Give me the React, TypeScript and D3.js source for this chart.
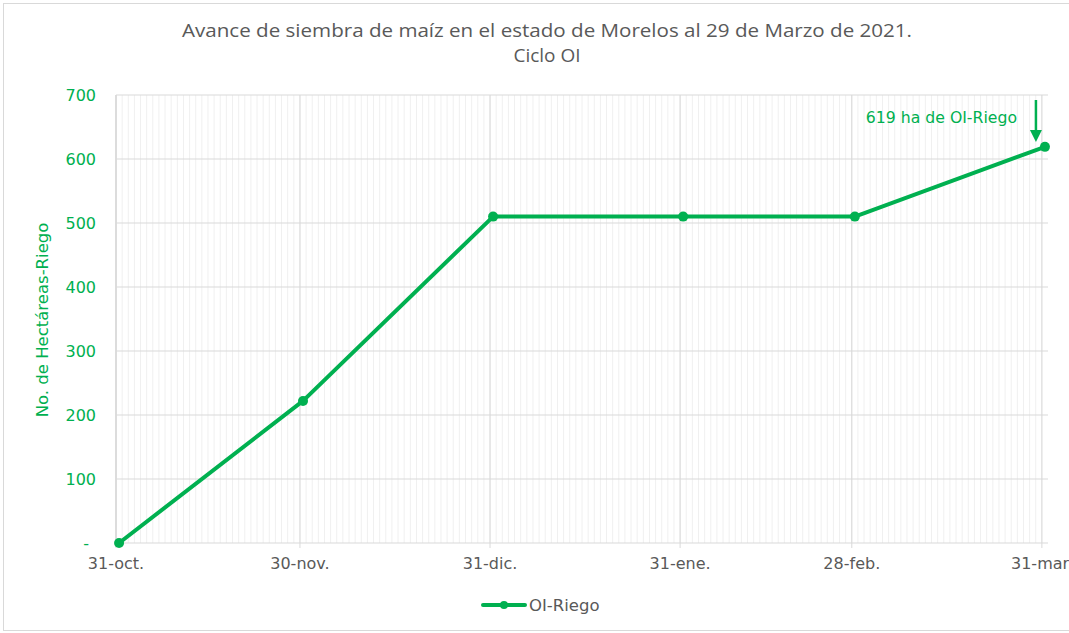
import React from "react";
import * as d3 from "d3";

const dates = ["2020-10-31", "2020-11-30", "2020-12-31", "2021-01-31", "2021-02-28", "2021-03-31"];
const values = [0, 222, 510, 510, 510, 619];
const tickLabels = ["31-oct.", "30-nov.", "31-dic.", "31-ene.", "28-feb.", "31-mar."];
const yTicks = [0, 100, 200, 300, 400, 500, 600, 700];
const seriesName = "OI-Riego";
const annotation = "619 ha de OI-Riego";

const W = 1069;
const H = 633;
const GREEN = "#00b050";
const GREY = "#595959";
const FONT = "'DejaVu Sans', 'Noto Sans', sans-serif";
const TFONT = "'Open Sans', 'Noto Sans', sans-serif";

export default function App() {
  const parse = (s: string) => new Date(s + "T00:00:00Z");
  const start = parse(dates[0]);
  const end = d3.utcDay.offset(parse(dates[dates.length - 1]), 1);
  const x = d3.scaleUtc().domain([start, end]).range([116, 1048]);
  const y = d3.scaleLinear().domain([0, 700]).range([543, 95]);
  const days = d3.utcDay.range(start, end);
  const pts = dates.map((d, i) => ({ x: x(d3.utcHour.offset(parse(d), 12)), y: y(values[i]) }));
  const line = d3.line<{ x: number; y: number }>().x((p) => p.x).y((p) => p.y);
  const last = pts[pts.length - 1];

  return (
    <svg width={W} height={H} style={{ position: "absolute", left: 0, top: 0, background: "#fff" }}>
      <rect x={3.5} y={3.5} width={W + 10} height={H - 6} fill="#fff" stroke="#d9d9d9" />
      <text x={547} y={37} textAnchor="middle" fontFamily={TFONT} fontSize={19} fill={GREY} textLength={730} lengthAdjust="spacingAndGlyphs">
        Avance de siembra de maíz en el estado de Morelos al 29 de Marzo de 2021.
      </text>
      <text x={547} y={62} textAnchor="middle" fontFamily={TFONT} fontSize={19} fill={GREY}>
        Ciclo OI
      </text>
      {/* minor gridlines */}
      {days.map((d, i) => (
        <line key={"m" + i} x1={x(d)} x2={x(d)} y1={y(700)} y2={y(0)} stroke="#f0f0f0" strokeWidth={1} />
      ))}
      {/* horizontal gridlines */}
      {yTicks.map((t) => (
        <line key={"h" + t} x1={x(start)} x2={x(end)} y1={y(t)} y2={y(t)} stroke="#d9d9d9" strokeWidth={1} />
      ))}
      {/* major vertical gridlines */}
      {dates.map((d) => (
        <line key={"v" + d} x1={x(parse(d))} x2={x(parse(d))} y1={y(700)} y2={y(0) + 5} stroke="#d9d9d9" strokeWidth={1} />
      ))}
      <line x1={x(start)} x2={x(start)} y1={y(700)} y2={y(0)} stroke="#d9d9d9" strokeWidth={1.5} />
      {/* y tick labels */}
      {yTicks.map((t) => (
        <text key={"yl" + t} x={t === 0 ? 89 : 96} y={y(t) + 6} textAnchor="end" fontFamily={FONT} fontSize={16} fill={GREEN}>
          {t === 0 ? "-" : t}
        </text>
      ))}
      {/* x tick labels */}
      {dates.map((d, i) => (
        <text key={"xl" + d} x={x(parse(d))} y={569} textAnchor="middle" fontFamily={FONT} fontSize={16} fill={GREY}>
          {tickLabels[i]}
        </text>
      ))}
      <text transform="translate(48,320) rotate(-90)" textAnchor="middle" fontFamily={FONT} fontSize={16.5} fill={GREEN}>
        No. de Hectáreas-Riego
      </text>
      {/* series */}
      <path d={line(pts) || ""} fill="none" stroke={GREEN} strokeWidth={4} strokeLinejoin="round" />
      {pts.map((p, i) => (
        <circle key={"p" + i} cx={p.x} cy={p.y} r={5} fill={GREEN} />
      ))}
      {/* annotation */}
      <text x={1017} y={123} textAnchor="end" fontFamily={FONT} fontSize={15.7} fill={GREEN}>
        {annotation}
      </text>
      <line x1={last.x - 9} x2={last.x - 9} y1={100} y2={132} stroke={GREEN} strokeWidth={2.5} />
      <path d={`M${last.x - 15},${130} L${last.x - 3},${130} L${last.x - 9},${142} Z`} fill={GREEN} />
      {/* legend */}
      <line x1={483} x2={525} y1={605} y2={605} stroke={GREEN} strokeWidth={4} strokeLinecap="round" />
      <circle cx={504} cy={605} r={4} fill={GREEN} />
      <text x={529} y={611} fontFamily={FONT} fontSize={16.5} fill={GREY}>
        {seriesName}
      </text>
    </svg>
  );
}
